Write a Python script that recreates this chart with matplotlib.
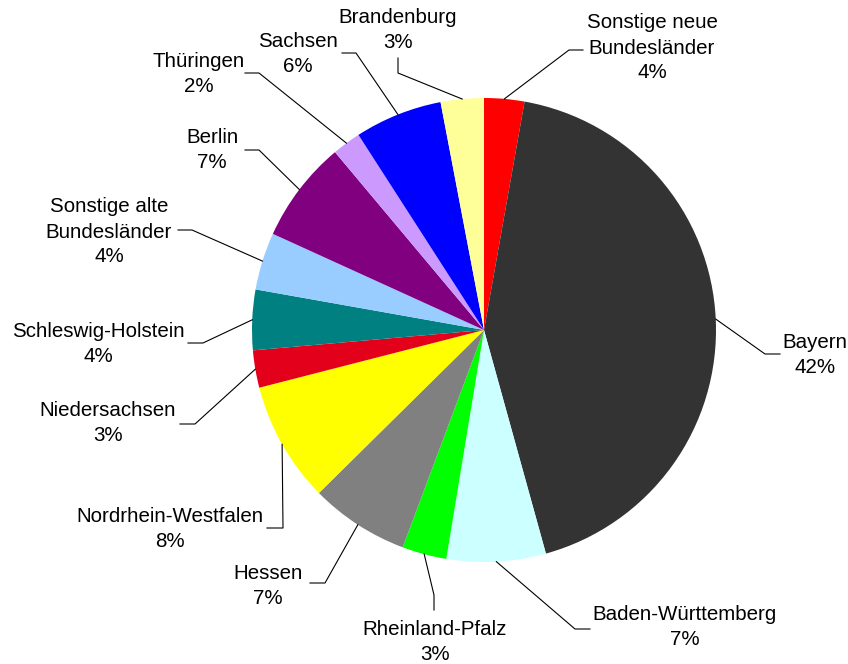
import matplotlib.pyplot as plt
import numpy as np

# Regionen, im Uhrzeigersinn ab 12 Uhr
regions = [
    "Sonstige neue\nBundesländer",
    "Bayern",
    "Baden-Württemberg",
    "Rheinland-Pfalz",
    "Hessen",
    "Nordrhein-Westfalen",
    "Niedersachsen",
    "Schleswig-Holstein",
    "Sonstige alte\nBundesländer",
    "Berlin",
    "Thüringen",
    "Sachsen",
    "Brandenburg",
]
# Anteile (aus den Winkeln geschaetzt) und die angezeigten Prozentwerte
shares = [2.8, 42.9, 6.9, 3.1, 6.9, 8.4, 2.6, 4.2, 4.0, 7.1, 2.0, 6.1, 3.0]
shown_pct = [4, 42, 7, 3, 7, 8, 3, 4, 4, 7, 2, 6, 3]
colors = [
    "#FF0000", "#333333", "#CCFFFF", "#00FF00", "#808080", "#FFFF00",
    "#E3001B", "#008080", "#99CCFF", "#800080", "#CC99FF", "#0000FF",
    "#FFFF99",
]

# Layout in Pixelkoordinaten (y nach unten)
W, H = 848, 664
center = (484, 330)
radius = 232
label_pos = [
    (652, 48), (815, 355), (685, 627), (435, 642), (268, 586), (170, 529),
    (108, 423), (98, 344), (109, 232), (212, 150), (199, 74), (298, 54),
    (398, 30),
]
elbows = [
    [(569, 50), (583, 50)],
    [(765, 354), (780, 354)],
    [(575, 629), (590, 629)],
    [(434, 595), (434, 610)],
    [(325, 583), (310, 583)],
    [(283, 528), (267, 528)],
    [(195, 424), (180, 424)],
    [(203, 343), (188, 343)],
    [(192, 230), (178, 230)],
    [(259, 150), (245, 150)],
    [(259, 73), (245, 73)],
    [(356, 53), (342, 53)],
    [(398, 73), (398, 58)],
]

plt.rcParams["font.family"] = ["Liberation Sans", "DejaVu Sans"]

fig = plt.figure(figsize=(W / 100, H / 100), dpi=100)
ax = fig.add_axes([0, 0, 1, 1])

# y-Achse invertiert -> startangle=-90 und counterclock=True ergibt
# optisch "ab 12 Uhr im Uhrzeigersinn"
wedges, _ = ax.pie(shares, colors=colors, center=center, radius=radius,
                   startangle=-90, counterclock=True,
                   wedgeprops=dict(linewidth=0))

for w, name, pct, pos, pts in zip(wedges, regions, shown_pct, label_pos, elbows):
    mid = np.deg2rad((w.theta1 + w.theta2) / 2)
    start = (center[0] + radius * np.cos(mid), center[1] + radius * np.sin(mid))
    xs = [start[0]] + [p[0] for p in pts]
    ys = [start[1]] + [p[1] for p in pts]
    ax.plot(xs, ys, color="black", lw=0.8)
    ax.text(pos[0], pos[1], name + "\n" + str(pct) + "%", ha="center",
            va="center", fontsize=14.8, linespacing=1.4, color="black")

ax.set_xlim(0, W)
ax.set_ylim(H, 0)
ax.set_aspect("equal")
ax.axis("off")

fig.savefig("out.png", dpi=100)
